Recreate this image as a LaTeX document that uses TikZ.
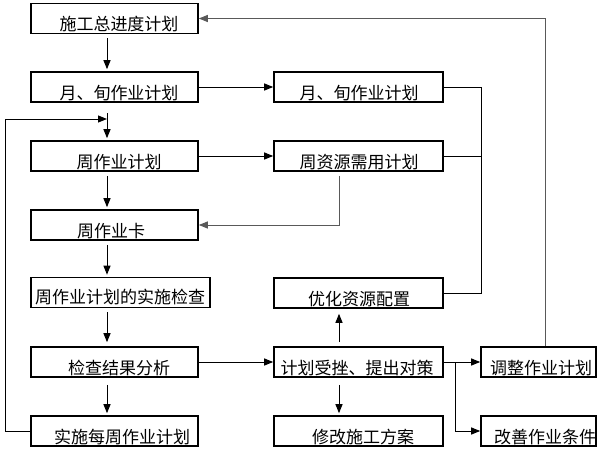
\documentclass[tikz,border=0pt]{standalone}
\usepackage{fontspec}
\setmainfont{Noto Sans CJK SC}
\usetikzlibrary{arrows.meta,calc}
\begin{document}
\begin{tikzpicture}[x=1pt,y=-1pt,
  box/.style={draw, line width=1.6pt, minimum height=30pt, inner sep=0pt, anchor=center},
  lbl/.style={font=\fontsize{17}{19}\selectfont, inner sep=0pt, anchor=center},
  con/.style={line width=1pt},
  arr/.style={con, -{Triangle[length=9pt,width=7pt]}},
  garr/.style={arr, draw=black!65}]
\useasboundingbox (0,0) rectangle (600,450);
% left column
\node[box, minimum width=167pt] (b1) at (114.5,18.5) {};
\node[box, minimum width=167pt] (b2) at (114.5,87) {};
\node[box, minimum width=167pt] (b3) at (114.5,156) {};
\node[box, minimum width=167pt] (b4) at (114.5,225) {};
\node[box, minimum width=179pt] (b5) at (120.5,292.5) {};
\node[box, minimum width=167pt] (b6) at (114.5,362) {};
\node[box, minimum width=167pt] (b7) at (114.5,431) {};
% middle column
\node[box, minimum width=169pt] (m1) at (358.5,87) {};
\node[box, minimum width=169pt] (m2) at (358.5,156) {};
\node[box, minimum width=169pt] (m3) at (358.5,293) {};
\node[box, minimum width=169pt] (m4) at (358.5,362) {};
\node[box, minimum width=169pt] (m5) at (358.5,431) {};
% right column
\node[box, minimum width=115pt] (r1) at (538.5,362) {};
\node[box, minimum width=115pt] (r2) at (538.5,431) {};
% labels
\node[lbl] at (119,24) {施工总进度计划};
\node[lbl] at (119,93) {月、旬作业计划};
\node[lbl] at (119,162) {周作业计划};
\node[lbl] at (111,231) {周作业卡};
\node[lbl] at (120,297) {周作业计划的实施检查};
\node[lbl] at (119,368) {检查结果分析};
\node[lbl] at (122,437) {实施每周作业计划};
\node[lbl] at (359,93) {月、旬作业计划};
\node[lbl] at (359,162) {周资源需用计划};
\node[lbl] at (359,299) {优化资源配置};
\node[lbl] at (357,368) {计划受挫、提出对策};
\node[lbl] at (363,437) {修改施工方案};
\node[lbl] at (541,368) {调整作业计划};
\node[lbl] at (545,437) {改善作业条件};
% helper coordinates
\coordinate (jv) at (107,113);
\coordinate (jh) at (107,119);
\coordinate (lx) at (5,119);
\coordinate (br) at (481,87);
\coordinate (sp) at (455,362);
\coordinate (top) at (545,18.5);
\coordinate (mid) at (339,225);
% left column arrows
\draw[arr] ($(b1.south-|jv)+(0,4)$) -- ($(b2.north-|jv)+(0,-2)$);
\draw[arr] (b7.west) -| (lx) -- (jh);
\draw[arr] (jv) -- ($(b3.north-|jv)+(0,-2)$);
\draw[arr] ($(b3.south-|jv)+(0,4)$) -- ($(b4.north-|jv)+(0,-2)$);
\draw[arr] ($(b4.south-|jv)+(0,4)$) -- ($(b5.north-|jv)+(0,-2)$);
\draw[arr] ($(b5.south-|jv)+(0,4)$) -- ($(b6.north-|jv)+(0,-4)$);
\draw[arr] ($(b6.south-|jv)+(0,7)$) -- ($(b7.north-|jv)+(0,-2)$);
% horizontal arrows
\draw[arr] (b2.east) -- (m1.west);
\draw[arr] (b3.east) -- (m2.west);
\draw[arr] (b6.east) -- (m4.west);
\draw[arr] (m4.east) -- (r1.west);
\draw[arr] (sp) |- (r2.west);
% resource loop back
\draw[garr] ($(m2.south-|mid)+(0,4)$) -- (mid) -- (b4.east);
% middle column arrows
\draw[arr] ($(m4.north-|mid)+(0,-4)$) -- ($(m3.south-|mid)+(0,5)$);
\draw[arr] ($(m4.south-|mid)+(0,7)$) -- ($(m5.north-|mid)+(0,-2)$);
% bracket on the right of middle column
\draw[con] (m1.east) -| (m3.east-|br) -- (m3.east);
\draw[con] (m2.east) -- (m2.east-|br);
% adjust plan back to top
\draw[garr] (r1.north-|top) |- (b1.east);
\end{tikzpicture}
\end{document}
